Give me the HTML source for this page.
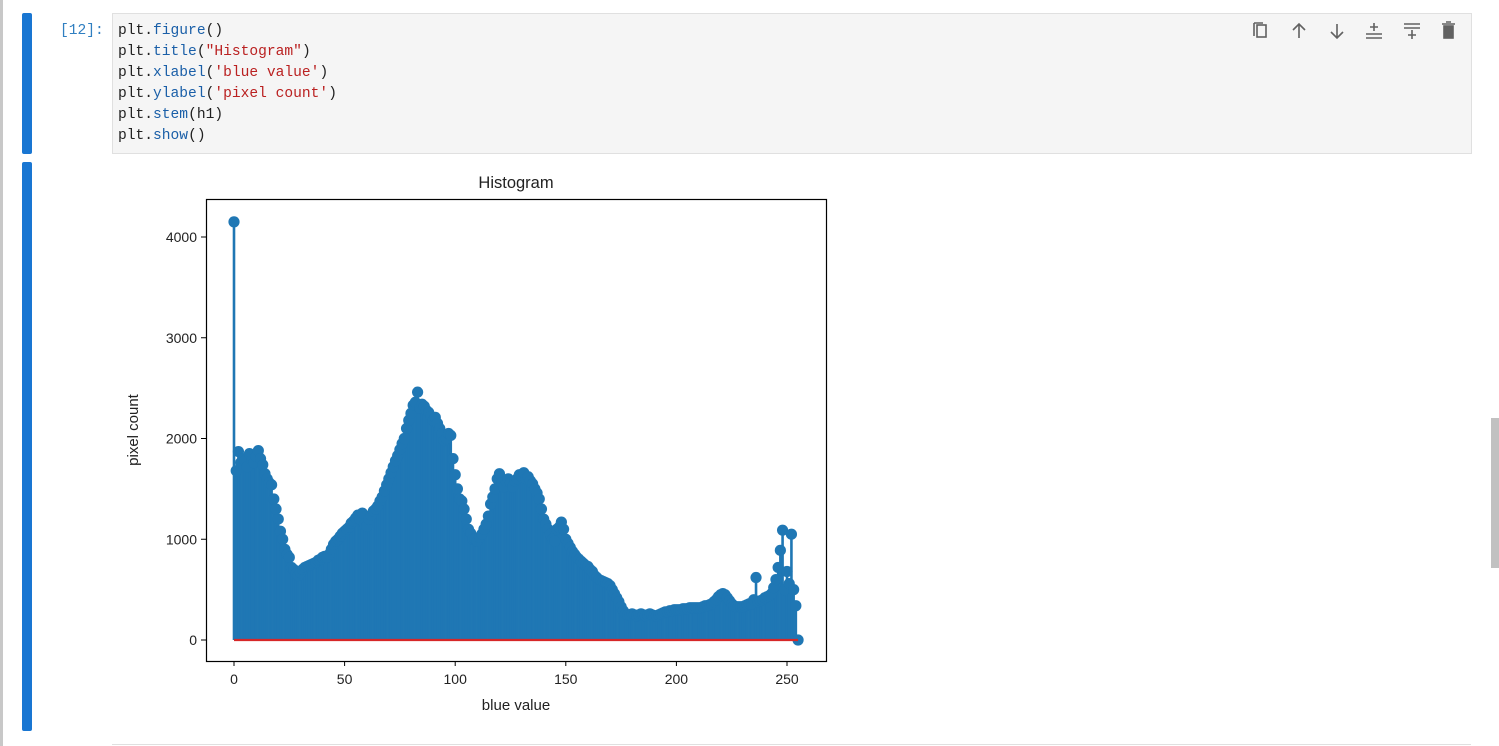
<!DOCTYPE html>
<html><head><meta charset="utf-8"><style>
body{margin:0;width:1499px;height:746px;background:#fff;position:relative;overflow:hidden;font-family:"Liberation Sans",sans-serif}
.abs{position:absolute}
.code{font-family:"Liberation Mono",monospace;font-size:14.6px;line-height:21px;white-space:pre;color:#212121}
.k{color:#1a5fa8}.s{color:#ba2121}
</style></head><body>
<div class="abs" style="left:0;top:0;width:3px;height:746px;background:#c8c8c8"></div>
<div class="abs" style="left:22px;top:13px;width:10px;height:141px;background:#1976d2;border-radius:2px"></div>
<div class="abs" style="left:22px;top:162px;width:10px;height:569px;background:#1976d2;border-radius:2px"></div>
<div class="abs code" style="left:60px;top:21px;color:#307fc1">[12]:</div>
<div class="abs" style="left:112px;top:13px;width:1358px;height:139px;background:#f5f5f5;border:1px solid #e0e0e0"></div>
<div class="abs code" style="left:118px;top:21px">plt.<span class="k">figure</span>()
plt.<span class="k">title</span>(<span class="s">"Histogram"</span>)
plt.<span class="k">xlabel</span>(<span class="s">'blue value'</span>)
plt.<span class="k">ylabel</span>(<span class="s">'pixel count'</span>)
plt.<span class="k">stem</span>(h1)
plt.<span class="k">show</span>()</div>
<svg class="abs" style="left:1250px;top:20px" width="210" height="24" fill="none" stroke="#616161" stroke-width="1.6">
<g><rect x="7" y="5" width="9" height="12"/><path d="M4 3v13M4 3h9"/></g>
<g><path d="M49 18V4M43 10l6-6 6 6"/></g>
<g><path d="M87 4v14M81 12l6 6 6-6"/></g>
<g><path d="M116 18h16M116 14h16M124 3v8M120 7h8"/></g>
<g><path d="M154 4h16M154 8h16M162 10v9M158 15h8"/></g>
<g fill="#616161"><rect x="194" y="6" width="9" height="12"/><path d="M192 4h13M196 2h5"/></g>
</svg>
<div class="abs" style="left:1491px;top:418px;width:8px;height:150px;background:#c1c1c1"></div>
<div class="abs" style="left:112px;top:744px;width:1359px;height:1px;background:#e0e0e0"></div>
<svg id="chart" class="abs" style="left:0;top:0" width="1499" height="746"></svg>
<script>
const counts=[4150,
1680,1870,1760,1800,1780,1720,1850,1790,1760,1820,
1880,1800,1740,1650,1600,1560,1540,1400,1300,1200,
1080,1000,900,850,820,720,700,660,640,670,
700,720,730,740,750,760,770,790,800,820,
830,820,850,900,950,980,1000,1030,1060,1080,
1100,1120,1160,1180,1210,1240,1200,1260,1150,1130,
1200,1240,1280,1300,1330,1380,1420,1480,1540,1600,
1660,1720,1780,1830,1890,1950,2000,2100,2180,2250,
2330,2360,2460,2300,2340,2320,2280,2260,2220,2180,
2210,2150,2100,2050,1980,2000,2050,2030,1800,1640,
1500,1400,1380,1300,1200,1100,1060,1000,1000,980,
1020,1050,1100,1150,1230,1350,1420,1500,1600,1650,
1560,1520,1580,1600,1560,1520,1580,1600,1640,1620,
1660,1600,1620,1580,1550,1500,1460,1400,1300,1200,
1150,1100,1050,1000,980,1100,1120,1170,1100,1000,
960,920,880,850,820,800,780,760,740,730,
700,680,640,620,600,590,580,570,560,540,
500,460,420,380,330,290,260,250,250,260,
250,240,250,260,250,240,250,260,250,240,
240,250,260,270,280,280,290,290,300,300,
300,300,310,310,310,320,320,320,320,320,
320,330,340,340,350,360,380,400,430,450,
460,450,420,390,360,340,330,330,330,330,
340,350,360,360,400,620,380,390,400,420,
430,440,460,520,600,720,890,1090,500,680,
560,1050,500,340,0];
const xTicks=[0,50,100,150,200,250];
const yTicks=[0,1000,2000,3000,4000];
const NS="http://www.w3.org/2000/svg";
const svg=document.getElementById('chart');
const X=v=>234+v*2.212, Y=v=>640-v*0.10075;
function mk(t,a){const e=document.createElementNS(NS,t);for(const k in a)e.setAttribute(k,a[k]);svg.appendChild(e);return e;}
let e=mk('rect',{x:206.5,y:199.5,width:620,height:462,fill:'#fff',stroke:'#000','stroke-width':1.2});


counts.forEach((c,i)=>{
  let l=mk('line',{x1:X(i),x2:X(i),y1:Y(0),y2:Y(c),stroke:'#1f77b4','stroke-width':2.6});
  
  
});
counts.forEach((c,i)=>{
  let m=mk('circle',{cx:X(i),cy:Y(c),r:5.6,fill:'#1f77b4'});
  
  
});
e=mk('line',{x1:X(0),x2:X(counts.length-1),y1:Y(0),y2:Y(0),stroke:'#d62728','stroke-width':2.2});


xTicks.forEach(t=>{
  let l=mk('line',{x1:X(t),x2:X(t),y1:661,y2:666,stroke:'#000','stroke-width':1});
  
  
  let tx=mk('text',{x:X(t),y:684,'text-anchor':'middle','font-size':14,fill:'#222'});
  tx.textContent=t;
  
  
});
yTicks.forEach(t=>{
  let l=mk('line',{x1:201,x2:206,y1:Y(t),y2:Y(t),stroke:'#000','stroke-width':1});
  
  
  let tx=mk('text',{x:197,y:Y(t)+5,'text-anchor':'end','font-size':14,fill:'#222'});
  tx.textContent=t;
  
  
});
e=mk('text',{x:516,y:188,'text-anchor':'middle','font-size':16.5,fill:'#222'});e.textContent='Histogram';


e=mk('text',{x:516,y:710,'text-anchor':'middle','font-size':15,fill:'#222'});e.textContent='blue value';


e=mk('text',{x:0,y:0,'text-anchor':'middle','font-size':15,fill:'#222',transform:'translate(138,430) rotate(-90)'});e.textContent='pixel count';


</script>
</body></html>
